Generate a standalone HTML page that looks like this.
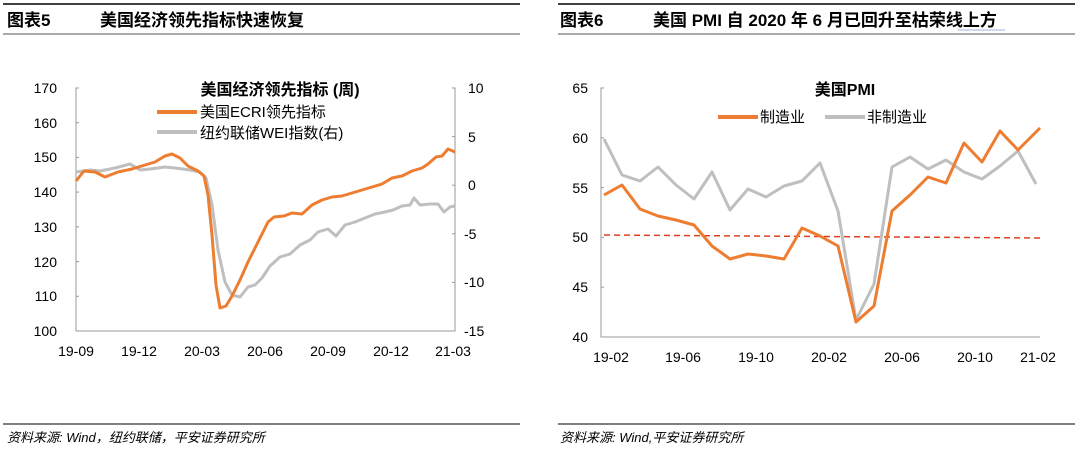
<!DOCTYPE html>
<html><head><meta charset="utf-8"><style>
body{margin:0;background:#fff;width:1080px;height:455px;overflow:hidden;font-family:"Liberation Sans","Noto Sans CJK SC",sans-serif;}
svg{position:absolute;left:0;top:0}
</style></head><body>
<svg width="1080" height="455" xmlns="http://www.w3.org/2000/svg" font-family="Liberation Sans, Noto Sans CJK SC, sans-serif">
<!-- headers -->
<line x1="3" y1="4" x2="520" y2="4" stroke="#000" stroke-width="1.5"/>
<line x1="3" y1="34" x2="520" y2="34" stroke="#555" stroke-width="1"/>
<text x="7" y="26" font-size="17" font-weight="bold">图表5</text>
<text x="100" y="26" font-size="17" font-weight="bold">美国经济领先指标快速恢复</text>
<line x1="558" y1="4" x2="1075" y2="4" stroke="#000" stroke-width="1.5"/>
<line x1="558" y1="34" x2="1075" y2="34" stroke="#555" stroke-width="1"/>
<text x="560" y="26" font-size="17" font-weight="bold">图表6</text>
<text x="653" y="26" font-size="17" font-weight="bold">美国 PMI 自 2020 年 6 月已回升至枯荣线上方</text>
<line x1="958" y1="30" x2="1005" y2="30" stroke="#9bb5e0" stroke-width="1"/>
<!-- footers -->
<line x1="3" y1="424" x2="520" y2="424" stroke="#000" stroke-width="1"/>
<text x="7" y="442" font-size="13" font-style="italic">资料来源: Wind，纽约联储，平安证券研究所</text>
<line x1="558" y1="424" x2="1075" y2="424" stroke="#000" stroke-width="1"/>
<text x="560" y="442" font-size="13" font-style="italic">资料来源: Wind,平安证券研究所</text>

<!-- Left chart axes -->
<g stroke="#999" stroke-width="1" fill="none">
<path d="M79 88 H76 V331 H455 V88 H452"/>
</g>
<g stroke="#999"><line x1="76" y1="122.7" x2="79" y2="122.7"/><line x1="76" y1="157.4" x2="79" y2="157.4"/><line x1="76" y1="192.1" x2="79" y2="192.1"/><line x1="76" y1="226.9" x2="79" y2="226.9"/><line x1="76" y1="261.6" x2="79" y2="261.6"/><line x1="76" y1="296.3" x2="79" y2="296.3"/>
<line x1="452" y1="136.6" x2="455" y2="136.6"/><line x1="452" y1="185.2" x2="455" y2="185.2"/><line x1="452" y1="233.8" x2="455" y2="233.8"/><line x1="452" y1="282.4" x2="455" y2="282.4"/></g>
<g font-size="14" fill="#000" text-anchor="end">
<text x="57" y="93">170</text><text x="57" y="128">160</text><text x="57" y="162">150</text><text x="57" y="197">140</text><text x="57" y="232">130</text><text x="57" y="267">120</text><text x="57" y="301">110</text><text x="57" y="336">100</text>
</g>
<g font-size="14" fill="#000">
<text x="468" y="93">10</text><text x="468" y="142">5</text><text x="468" y="190">0</text><text x="464" y="239">-5</text><text x="464" y="287">-10</text><text x="464" y="336">-15</text>
</g>
<g font-size="14" fill="#000" text-anchor="middle">
<text x="76" y="356">19-09</text><text x="139" y="356">19-12</text><text x="202" y="356">20-03</text><text x="265" y="356">20-06</text><text x="328" y="356">20-09</text><text x="391" y="356">20-12</text><text x="453" y="356">21-03</text>
</g>
<text x="280" y="95" font-size="16" font-weight="bold" text-anchor="middle">美国经济领先指标 (周)</text>
<line x1="157" y1="112" x2="197" y2="112" stroke="#ED7D31" stroke-width="4"/>
<text x="200" y="117" font-size="15">美国ECRI领先指标</text>
<line x1="157" y1="132" x2="197" y2="132" stroke="#BFBFBF" stroke-width="4"/>
<text x="200" y="138" font-size="15">纽约联储WEI指数(右)</text>
<polyline fill="none" stroke="#BFBFBF" stroke-width="3" stroke-linejoin="round" points="76,172 90,170 100,171 115,168 130,164 140,170 150,169 165,167 175,168 190,170 200,172 206,178 212,205 218,250 225,282 232,295 240,297 248,287 255,285 262,278 270,266 280,257 290,254 300,245 310,240 318,232 328,229 336,236 345,225 355,222 365,218 375,214 385,212 393,210 402,206 410,205 414,198 420,205 430,204 438,204 444,212 450,207 455,206"/>
<polyline fill="none" stroke="#ED7D31" stroke-width="3" stroke-linejoin="round" points="76,181 84,171 95,172 105,177 118,172 132,169 145,165 155,162 165,156 172,154 180,158 188,166 198,171 204,176 208,195 212,235 216,285 220,308 226,306 232,296 240,280 248,262 256,246 262,234 268,222 274,217 284,216 292,213 302,214 312,205 322,200 332,197 342,196 352,193 362,190 372,187 382,184 392,178 402,176 412,171 422,168 428,164 436,157 442,156 448,149 455,152"/>

<!-- Right chart -->
<path d="M604 88 H601 V337 H1040" stroke="#999" fill="none"/>
<g stroke="#999"><line x1="601" y1="137.8" x2="604" y2="137.8"/><line x1="601" y1="187.6" x2="604" y2="187.6"/><line x1="601" y1="237.4" x2="604" y2="237.4"/><line x1="601" y1="287.2" x2="604" y2="287.2"/></g>
<g font-size="14" fill="#000" text-anchor="end">
<text x="588" y="93">65</text><text x="588" y="143">60</text><text x="588" y="193">55</text><text x="588" y="242">50</text><text x="588" y="292">45</text><text x="588" y="342">40</text>
</g>
<g font-size="14" fill="#000" text-anchor="middle">
<text x="611" y="362">19-02</text><text x="683" y="362">19-06</text><text x="756" y="362">19-10</text><text x="829" y="362">20-02</text><text x="902" y="362">20-06</text><text x="975" y="362">20-10</text><text x="1038" y="362">21-02</text>
</g>
<text x="845" y="95" font-size="16" font-weight="bold" text-anchor="middle">美国PMI</text>
<line x1="718" y1="117" x2="758" y2="117" stroke="#ED7D31" stroke-width="4"/>
<text x="760" y="122" font-size="15">制造业</text>
<line x1="825" y1="117" x2="865" y2="117" stroke="#BFBFBF" stroke-width="4"/>
<text x="867" y="122" font-size="15">非制造业</text>
<line x1="604" y1="235" x2="1040" y2="238" stroke="#E04020" stroke-width="1.5" stroke-dasharray="6,4"/>
<polyline fill="none" stroke="#BFBFBF" stroke-width="3" stroke-linejoin="round" points="604,139 622,175 640,181 658,167 676,185 694,199 712,172 730,210 748,189 766,197 784,186 802,181 820,163 838,211 856,320 874,284 892,167 910,157 928,169 946,160 964,172 982,179 1000,166 1018,151 1036,184"/>
<polyline fill="none" stroke="#ED7D31" stroke-width="3" stroke-linejoin="round" points="604,195 622,185 640,209 658,216 676,220 694,225 712,246 730,259 748,254 766,256 784,259 802,228 820,236 838,246 856,322 874,306 892,211 910,195 928,177 946,183 964,143 982,162 1000,131 1018,150 1040,128"/>
</svg>
</body></html>
